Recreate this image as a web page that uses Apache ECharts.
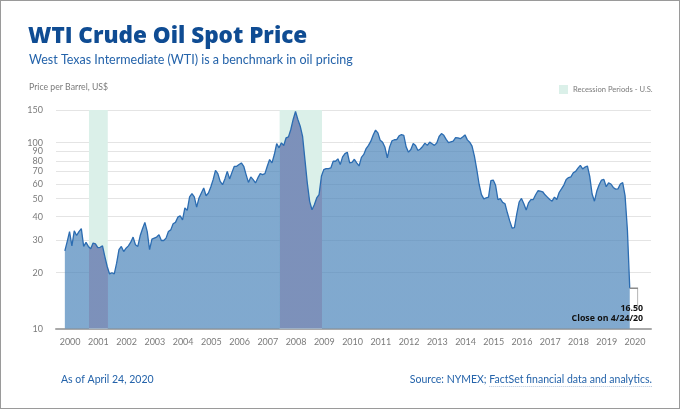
<!DOCTYPE html>
<html><head><meta charset="utf-8">
<script src="https://cdn.jsdelivr.net/npm/echarts@6/dist/echarts.min.js"></script>
<style>html,body{margin:0;padding:0;background:#fff}#c{width:680px;height:409px}</style>
</head><body><div id="c"></div>
<script>
// Monthly WTI spot price samples (US$/bbl), one per month starting April 2000 (sampled near the 24th)
const startYear = 2000, startMonth = 4;
const prices = [
  26.2, 29.4, 33.3, 27.9, 33.6, 31.7, 33.3, 34.5, 27.7, 29.1, 27.7, 26.9,
  28.9, 28.6, 27.3, 27.4, 27.9, 24.4, 21.6, 19.7, 20.0, 19.7, 22.5, 26.6,
  27.7, 26.0, 27.1, 27.9, 29.2, 31.1, 28.3, 27.7, 31.6, 34.5, 37.3, 33.3,
  26.6, 30.3, 30.7, 31.1, 32.0, 29.8, 29.8, 30.7, 33.3, 34.0, 36.7, 37.3,
  39.8, 40.5, 38.5, 44.6, 43.3, 51.1, 53.2, 51.1, 45.1, 50.5, 53.7, 57.1,
  51.9, 53.7, 57.8, 63.3, 71.1, 68.2, 62.0, 59.5, 63.9, 70.2, 63.9, 69.3,
  74.7, 74.7, 76.3, 77.9, 74.7, 67.4, 61.2, 65.5, 63.3, 60.8, 64.7, 68.2,
  67.4, 68.2, 74.7, 81.2, 77.9, 86.4, 99.0, 93.9, 99.9, 96.6, 106.3, 107.6,
  117.8, 133.4, 147.3, 133.4, 122.7, 108.3, 81.2, 60.8, 48.4, 43.6, 46.4, 50.5,
  52.6, 66.0, 71.7, 72.6, 72.6, 73.2, 79.5, 79.5, 81.9, 76.3, 83.9, 87.4,
  88.9, 77.9, 78.5, 81.5, 78.0, 75.0, 83.5, 86.5, 93.0, 96.8, 102.0, 110.0,
  117.0, 113.0, 103.0, 100.5, 94.5, 83.0, 95.0, 102.5, 103.8, 104.0, 109.0, 110.5,
  109.6, 95.0, 89.0, 92.0, 99.0, 96.6, 90.8, 92.5, 95.5, 99.5, 96.8, 100.8,
  98.8, 96.8, 99.7, 108.0, 112.0, 109.6, 104.3, 100.2, 101.1, 101.9, 106.5, 106.3,
  105.1, 107.5, 110.2, 103.6, 100.7, 95.9, 84.8, 72.0, 59.8, 52.6, 49.9, 50.5,
  51.0, 62.5, 63.0, 59.0, 49.5, 50.0, 47.8, 47.0, 42.0, 38.0, 34.8, 35.0,
  41.5, 48.0, 50.2, 47.0, 43.5, 47.5, 49.4, 49.5, 52.5, 55.2, 55.0, 54.5,
  52.5, 51.0, 49.5, 48.5, 51.0, 49.5, 54.0, 56.5, 59.2, 63.5, 65.0, 65.5,
  69.0, 70.2, 73.0, 75.5, 72.3, 74.0, 75.0, 66.0, 53.0, 48.5, 55.0, 59.5,
  63.0, 63.5, 58.0, 60.8, 60.0, 57.5, 56.3, 56.5, 60.0, 61.0, 52.0, 34.0,
  16.5
];
const yTicks = [10, 20, 30, 40, 50, 60, 70, 80, 90, 100, 150];
const yearLabels = [2000,2001,2002,2003,2004,2005,2006,2007,2008,2009,2010,2011,2012,2013,2014,2015,2016,2017,2018,2019,2020];
const recessionStarts = ['2001-03', '2007-12'];
const recessionEnds = ['2001-11', '2009-06'];
const closeDateLabel = 'Close on 4/24/20';
const sourcePrefix = 'Source: NYMEX; ';
const sourceLink = 'FactSet financial data and analytics.';

const C = {
  title: '#0f4c93', sub: '#2463aa', gray: '#7b7b7b', grid: '#e4e4e4',
  fill: '#4a84ba', fillRec: '#5468a6', line: '#2b6cb1', mint: '#dbf0e9', axis: '#a9a9a9'
};
const FONT = 'Lato, "Open Sans", sans-serif';
const SRC_SIZE = 10.5;

function monthToYear(s) { const [y, m] = s.split('-').map(Number); return y + (m - 1) / 12; }
const points = prices.map((v, i) => {
  const m = startMonth - 1 + i;
  const t = startYear + Math.floor(m / 12) + (m % 12) / 12 + 23 / 365;
  return [t, v];
});
const last = points[points.length - 1];
const recessions = recessionStarts.map((s, i) => [monthToYear(s), monthToYear(recessionEnds[i])]);

// measure link text for underline
const mctx = document.createElement('canvas').getContext('2d');
mctx.font = SRC_SIZE + 'px Lato';
const linkW = mctx.measureText(sourceLink).width;
const srcRight = 680 - 28;

const chart = echarts.init(document.getElementById('c'), null, {renderer: 'canvas'});
chart.setOption({
  animation: false,
  backgroundColor: '#fff',
  textStyle: {fontFamily: FONT},
  title: [
    {text: 'WTI Crude Oil Spot Price', left: 28, top: 25, padding: 0,
     textStyle: {fontFamily: '"Open Sans", Lato, sans-serif', fontSize: 22.5, fontWeight: 800, color: C.title}},
    {text: 'West Texas Intermediate (WTI) is a benchmark in oil pricing', left: 29, top: 53, padding: 0,
     textStyle: {fontFamily: FONT, fontSize: 12.5, fontWeight: 'normal', color: C.sub}},
    {text: 'Price per Barrel, US$', left: 29, top: 83, padding: 0,
     textStyle: {fontFamily: FONT, fontSize: 8.7, fontWeight: 'normal', color: C.gray}},
    {text: 'As of April 24, 2020', left: 61, top: 374, padding: 0,
     textStyle: {fontFamily: FONT, fontSize: SRC_SIZE, fontWeight: 'normal', color: C.sub}},
    {text: sourcePrefix + sourceLink, right: 28, top: 374, padding: 0,
     textStyle: {fontFamily: FONT, fontSize: SRC_SIZE, fontWeight: 'normal', color: C.sub}}
  ],
  legend: {
    data: ['Recession Periods - U.S.'], left: 559, top: 85, padding: 0,
    itemWidth: 9, itemHeight: 9, icon: 'rect', itemGap: 5,
    textStyle: {fontFamily: FONT, fontSize: 7.6, color: C.gray, padding: [0, 0, 0, 0]},
    selectedMode: false
  },
  graphic: [
    {type: 'rect', shape: {x: 0, y: 0, width: 680, height: 409}, style: {fill: 'none', stroke: '#9a9a9a', lineWidth: 2}, silent: true},
    {type: 'line', shape: {x1: srcRight - linkW, y1: 386.5, x2: srcRight, y2: 386.5}, style: {stroke: '#9fb6d3', lineWidth: 0.8, lineDash: [1, 1]}, silent: true}
  ],
  grid: {left: 56, right: 29, top: 110, bottom: 80.3, containLabel: false},
  xAxis: {
    type: 'value', min: 2000, max: 2021.065,
    axisLine: {show: true, lineStyle: {color: C.axis, width: 2}},
    axisTick: {show: false},
    splitLine: {show: false},
    axisLabel: {
      customValues: yearLabels.map(y => y + 0.5),
      formatter: v => String(Math.floor(v)),
      color: C.gray, fontSize: 9, fontFamily: FONT, margin: 9
    }
  },
  yAxis: {
    type: 'log', logBase: 10, min: 10, max: 150,
    axisLine: {show: false},
    axisTick: {show: false, customValues: yTicks},
    axisLabel: {customValues: yTicks, color: C.gray, fontSize: 9, fontFamily: FONT, margin: 13},
    splitLine: {show: true, lineStyle: {color: C.grid, width: 1}}
  },
  visualMap: {
    type: 'piecewise', show: false, seriesIndex: 1, dimension: 0,
    pieces: recessions.map(r => ({gte: r[0], lt: r[1], color: C.fillRec})),
    outOfRange: {color: C.fill}
  },
  series: [
    {
      name: 'Recession Periods - U.S.', type: 'custom', z: 1,
      itemStyle: {color: C.mint},
      encode: {x: [0, 1]},
      data: recessions,
      renderItem: (params, api) => {
        const p0 = api.coord([api.value(0), 150]);
        const p1 = api.coord([api.value(1), 10]);
        return {type: 'rect', shape: {x: p0[0], y: p0[1], width: p1[0] - p0[0], height: p1[1] - p0[1]},
                style: {fill: C.mint}};
      }
    },
    {
      name: 'area', type: 'line', z: 2, data: points, symbol: 'none', silent: true,
      lineStyle: {width: 0}, areaStyle: {opacity: 0.7, origin: 'start'}
    },
    {
      name: 'WTI', type: 'line', z: 3, data: points, symbol: 'none', silent: true,
      lineStyle: {color: C.line, width: 1.3}, itemStyle: {color: C.line},
      markPoint: {
        silent: true,
        symbol: 'path://M0,0 L8,0 L8,19',
        symbolSize: [8, 19],
        symbolOffset: [4, 9.5],
        itemStyle: {color: 'none', borderColor: '#8c8c8c', borderWidth: 1},
        label: {
          show: true, position: [15, 19], align: 'right', verticalAlign: 'top',
          formatter: p => '{a|' + p.value.toFixed(2) + '}\n{a|' + closeDateLabel + '}',
          rich: {a: {fontFamily: '"Open Sans", Lato, sans-serif', fontSize: 8.8, fontWeight: 'bold', color: '#111', lineHeight: 10, align: 'right'}}
        },
        data: [{coord: last, value: last[1]}]
      }
    }
  ]
});
</script></body></html>
